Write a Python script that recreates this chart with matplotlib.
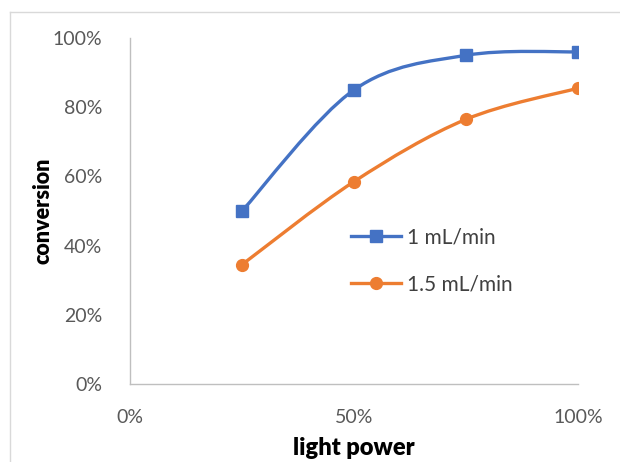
import matplotlib
matplotlib.use("Agg")
import matplotlib.pyplot as plt
import numpy as np
from matplotlib.path import Path
from matplotlib.patches import PathPatch
from matplotlib.lines import Line2D
from matplotlib.ticker import PercentFormatter

light_power = [25, 50, 75, 100]
conv_1 = [50, 85, 95, 96]
conv_15 = [34.5, 58.5, 76.5, 85.5]
labels = ["1 mL/min", "1.5 mL/min"]
colors = ["#4472C4", "#ED7D31"]
markers = ["s", "o"]

plt.rcParams['font.family'] = ['Lato', 'DejaVu Sans']


def smooth_path(x, y):
    # excel-like smoothed line: cubic bezier with catmull-rom style control points
    x = np.asarray(x, float)
    y = np.asarray(y, float)
    verts = [(x[0], y[0])]
    codes = [Path.MOVETO]
    n = len(x)
    for i in range(n - 1):
        p0 = np.array([x[max(i - 1, 0)], y[max(i - 1, 0)]])
        p1 = np.array([x[i], y[i]])
        p2 = np.array([x[i + 1], y[i + 1]])
        p3 = np.array([x[min(i + 2, n - 1)], y[min(i + 2, n - 1)]])
        c1 = p1 + (p2 - p0) / 6
        c2 = p2 - (p3 - p1) / 6
        verts += [tuple(c1), tuple(c2), tuple(p2)]
        codes += [Path.CURVE4] * 3
    return Path(verts, codes)


fig = plt.figure(figsize=(6.2, 4.62), dpi=100)
ax = fig.add_axes([130 / 620, 1 - 384 / 462, 448 / 620, 346 / 462])

handles = []
for ys, lab, c, m in zip([conv_1, conv_15], labels, colors, markers):
    ax.add_patch(PathPatch(smooth_path(light_power, ys), fill=False, edgecolor=c, lw=2.4, zorder=2))
    ax.plot(light_power, ys, ls="none", marker=m, ms=8.5, color=c, zorder=3)
    handles.append(Line2D([0], [0], color=c, lw=2.4, marker=m, ms=8.5))

ax.set_xlim(0, 100)
ax.set_ylim(0, 100)
ax.set_xticks([0, 50, 100])
ax.set_yticks([0, 20, 40, 60, 80, 100])
ax.xaxis.set_major_formatter(PercentFormatter(decimals=0))
ax.yaxis.set_major_formatter(PercentFormatter(decimals=0))
ax.tick_params(length=0, labelsize=14, labelcolor="#595959")
ax.tick_params(axis="x", pad=18)
ax.tick_params(axis="y", pad=20)
for s in ["top", "right"]:
    ax.spines[s].set_visible(False)
for s in ["left", "bottom"]:
    ax.spines[s].set_color("#BFBFBF")
    ax.spines[s].set_linewidth(1.0)

ax.set_xlabel("light power", fontsize=17, fontweight="heavy", labelpad=8)
ax.set_ylabel("conversion", fontsize=15.5, fontweight="heavy")
ax.yaxis.set_label_coords(-0.17, 0.5)

ax.legend(handles, labels, loc="center left", bbox_to_anchor=(0.452, 0.355),
          frameon=False, fontsize=15, handlelength=2.4, labelspacing=1.3,
          handletextpad=0.3, labelcolor="#404040")

# chart border
fig.add_artist(Line2D([10 / 620, 10 / 620], [0, 1 - 12 / 462], color="#D9D9D9", lw=1, transform=fig.transFigure))
fig.add_artist(Line2D([10 / 620, 1], [1 - 12 / 462, 1 - 12 / 462], color="#D9D9D9", lw=1, transform=fig.transFigure))

fig.savefig("out.png", dpi=100)
